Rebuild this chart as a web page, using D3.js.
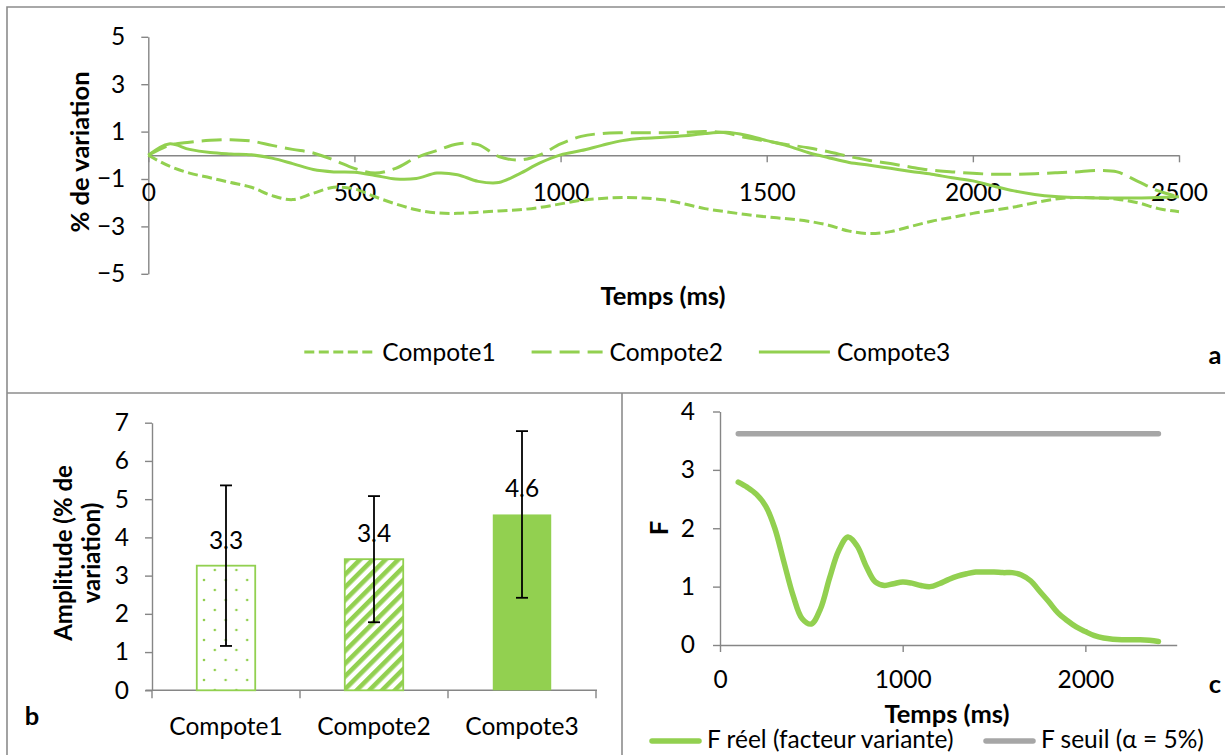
<!DOCTYPE html>
<html><head><meta charset="utf-8">
<script src="https://cdn.jsdelivr.net/npm/d3@7"></script>
<style>
body{margin:0;background:#fff}
svg{display:block}
text{font-family:Lato, "Liberation Sans", sans-serif; fill:#000}
</style>
</head><body>
<svg id="c" width="1225" height="755"></svg>
<script>
// ---------- Data: panel a ----------
const timeA = [0,50,100,150,200,250,300,350,400,450,500,550,600,650,700,750,800,850,900,950,1000,1050,1100,1150,1200,1250,1300,1350,1400,1450,1500,1550,1600,1650,1700,1750,1800,1850,1900,1950,2000,2050,2100,2150,2200,2250,2300,2350,2400,2450,2500];
const compote1 = [0,-0.45,-0.75,-0.95,-1.15,-1.35,-1.7,-1.87,-1.6,-1.35,-1.42,-1.75,-2.05,-2.3,-2.43,-2.45,-2.4,-2.35,-2.3,-2.2,-2.05,-1.9,-1.82,-1.78,-1.8,-1.88,-2.05,-2.25,-2.38,-2.5,-2.6,-2.68,-2.78,-2.95,-3.2,-3.3,-3.22,-3.0,-2.78,-2.62,-2.45,-2.32,-2.18,-2.0,-1.85,-1.78,-1.8,-1.85,-2.0,-2.25,-2.38];
const compote2 = [0,0.42,0.55,0.63,0.66,0.6,0.42,0.25,0.1,-0.2,-0.55,-0.75,-0.55,-0.1,0.2,0.48,0.45,-0.05,-0.2,0.02,0.48,0.8,0.92,0.95,0.95,0.95,0.97,1.0,0.95,0.75,0.6,0.45,0.32,0.15,-0.05,-0.22,-0.35,-0.5,-0.63,-0.7,-0.76,-0.8,-0.8,-0.78,-0.74,-0.7,-0.64,-0.7,-1.1,-1.5,-1.75];
const compote3 = [0,0.48,0.25,0.12,0.06,0.02,-0.12,-0.35,-0.6,-0.7,-0.72,-0.85,-1.0,-0.98,-0.75,-0.82,-1.1,-1.15,-0.78,-0.32,0.02,0.2,0.42,0.62,0.72,0.76,0.82,0.92,0.97,0.85,0.62,0.4,0.12,-0.1,-0.3,-0.42,-0.55,-0.68,-0.8,-0.95,-1.08,-1.3,-1.5,-1.65,-1.74,-1.78,-1.8,-1.8,-1.8,-1.78,-1.75];
const seriesNamesA = ["Compote1","Compote2","Compote3"];
const yTicksA = [-5,-3,-1,1,3,5];
const xTicksA = [0,500,1000,1500,2000,2500];

// ---------- Data: panel b ----------
const categoriesB = ["Compote1","Compote2","Compote3"];
const amplitude = [3.26,3.43,4.60];
const amplitudeErr = [2.1,1.65,2.18];
const yTicksB = [0,1,2,3,4,5,6,7];

// ---------- Data: panel c ----------
const timeC = [100,150,200,250,300,350,400,450,500,550,600,650,700,750,800,850,900,950,1000,1050,1100,1150,1200,1250,1300,1350,1400,1450,1500,1550,1600,1650,1700,1750,1800,1850,1900,1950,2000,2050,2100,2150,2200,2250,2300,2350,2400];
const fReel = [2.79,2.7,2.58,2.38,2.0,1.42,0.85,0.45,0.36,0.62,1.15,1.62,1.85,1.7,1.35,1.08,1.02,1.05,1.08,1.06,1.02,1.0,1.05,1.12,1.18,1.22,1.25,1.25,1.25,1.24,1.24,1.2,1.1,0.92,0.74,0.55,0.42,0.31,0.23,0.16,0.12,0.1,0.09,0.09,0.09,0.08,0.06];
const fSeuil = [3.62,3.62,3.62,3.62,3.62,3.62,3.62,3.62,3.62,3.62,3.62,3.62,3.62,3.62,3.62,3.62,3.62,3.62,3.62,3.62,3.62,3.62,3.62,3.62,3.62,3.62,3.62,3.62,3.62,3.62,3.62,3.62,3.62,3.62,3.62,3.62,3.62,3.62,3.62,3.62,3.62,3.62,3.62,3.62,3.62,3.62,3.62];
const seriesNamesC = ["F réel (facteur variante)","F seuil (α = 5%)"];
const yTicksC = [0,1,2,3,4];
const xTicksC = [0,1000,2000];

// ---------- Styles ----------
const GREEN = "#92D050", GREY = "#A6A6A6", AXIS = "#868686", BORDER = "#8C8C8C";
const FS = 24.5, FSB = 25.5;

const svg = d3.select("#c");

// frame lines
const frame = svg.append("g").attr("fill","none").attr("stroke",BORDER).attr("stroke-width",1.6);
frame.append("path").attr("d","M7,755V7H1225");
frame.append("path").attr("d","M7,393H1225");
frame.append("path").attr("d","M622,393V755");

function styleAxis(g){
  g.selectAll("path.domain").attr("stroke",AXIS).attr("stroke-width",1.4);
  g.selectAll(".tick line").attr("stroke",AXIS).attr("stroke-width",1.4);
  g.selectAll(".tick text").attr("font-size",FS).attr("font-family","Lato, 'Liberation Sans', sans-serif").attr("fill","#000");
}

// ================= Panel a =================
const xA = d3.scaleLinear().domain([0,2500]).range([148.3,1179]);
const yA = d3.scaleLinear().domain([-5,5]).range([273.8,36.8]);

const gAy = svg.append("g").attr("transform",`translate(${xA(0)},0)`)
  .call(d3.axisLeft(yA).tickValues(yTicksA).tickSize(7).tickSizeOuter(0).tickPadding(16).tickFormat(d3.format("d")));
styleAxis(gAy);
const gAx = svg.append("g").attr("transform",`translate(0,${yA(0)})`)
  .call(d3.axisBottom(xA).tickValues(xTicksA).tickSize(7).tickSizeOuter(0).tickPadding(21).tickFormat(d3.format("d")));
styleAxis(gAx);

const dashA = [ "10,4.5", "20,8", null ];
const valsA = [compote1, compote2, compote3];
const lineA = d3.line().x((d,i)=>xA(timeA[i])).y(d=>yA(d)).curve(d3.curveCatmullRom.alpha(0.5));
valsA.forEach((vals,k)=>{
  svg.append("path").datum(vals).attr("d",lineA)
    .attr("fill","none").attr("stroke",GREEN).attr("stroke-width",3)
    .attr("stroke-dasharray",dashA[k]);
});

svg.append("text").attr("transform",`translate(80,152) rotate(-90)`).attr("text-anchor","middle")
  .attr("dy","0.35em").attr("font-size",FSB).attr("font-weight","bold").text("% de variation");
svg.append("text").attr("x",663).attr("y",296).attr("text-anchor","middle")
  .attr("dy","0.35em").attr("font-size",FSB).attr("font-weight","bold").text("Temps (ms)");

// legend a
const legA = svg.append("g");
seriesNamesA.forEach((name,k)=>{
  const x0 = 304.3 + k*227.3;
  legA.append("line").attr("x1",x0).attr("x2",x0+71).attr("y1",352).attr("y2",352)
    .attr("stroke",GREEN).attr("stroke-width",3).attr("stroke-dasharray",dashA[k]);
  legA.append("text").attr("x",x0+78).attr("y",352).attr("dy","0.35em").attr("font-size",FS).text(name);
});
svg.append("text").attr("x",1215).attr("y",355).attr("text-anchor","middle").attr("dy","0.35em")
  .attr("font-size",FSB).attr("font-weight","bold").text("a");

// ================= Panel b =================
const defs = svg.append("defs");
const pDots = defs.append("pattern").attr("id","dots").attr("patternUnits","userSpaceOnUse")
  .attr("width",21.6).attr("height",20).attr("x",204).attr("y",560);
pDots.append("rect").attr("width",21.6).attr("height",20).attr("fill","#fff");
[[0,0],[21.6,0],[0,20],[21.6,20],[10.8,10]].forEach(p=>{
  pDots.append("circle").attr("cx",p[0]).attr("cy",p[1]).attr("r",1.3).attr("fill",GREEN);
});
const pStripe = defs.append("pattern").attr("id","stripes").attr("patternUnits","userSpaceOnUse")
  .attr("width",9).attr("height",9).attr("patternTransform","rotate(45)");
pStripe.append("rect").attr("width",9).attr("height",9).attr("fill","#fff");
pStripe.append("rect").attr("width",4.6).attr("height",9).attr("fill",GREEN);

const xB = d3.scaleBand().domain(categoriesB).range([152,596]).paddingInner(0.595).paddingOuter(0.2975);
const yB = d3.scaleLinear().domain([0,7]).range([690.3,422.7]);

const gBy = svg.append("g").attr("transform",`translate(152,0)`)
  .call(d3.axisLeft(yB).tickValues(yTicksB).tickSize(7).tickSizeOuter(0).tickPadding(16).tickFormat(d3.format("d")));
styleAxis(gBy);
const gBx = svg.append("g").attr("transform",`translate(0,${yB(0)})`)
  .call(d3.axisBottom(xB).tickSize(0).tickSizeOuter(0).tickPadding(27));
styleAxis(gBx);
gBx.select("path.domain").attr("d",`M145.5,0H597`);
d3.range(categoriesB.length+1).forEach(i=>{
  const bx = xB.range()[0] + i*xB.step();
  gBx.append("line").attr("x1",bx).attr("x2",bx).attr("y1",0).attr("y2",8).attr("stroke",AXIS).attr("stroke-width",1.4);
});

const fills = ["url(#dots)","url(#stripes)",GREEN];
categoriesB.forEach((c,i)=>{
  svg.append("rect").attr("x",xB(c)+0.75).attr("y",yB(amplitude[i]))
    .attr("width",xB.bandwidth()-1.5).attr("height",yB(0)-yB(amplitude[i]))
    .attr("fill",fills[i]).attr("stroke",GREEN).attr("stroke-width",i<2?1.8:0);
});
const fmt1 = d3.format(".1f");
categoriesB.forEach((c,i)=>{
  svg.append("text").attr("x",xB(c)+xB.bandwidth()/2).attr("y",yB(amplitude[i])-17)
    .attr("text-anchor","middle").attr("font-size",FS).text(fmt1(amplitude[i]));
});
categoriesB.forEach((c,i)=>{
  const cx = xB(c)+xB.bandwidth()/2;
  const hi = yB(amplitude[i]+amplitudeErr[i]), lo = yB(amplitude[i]-amplitudeErr[i]);
  const g = svg.append("g").attr("stroke","#000").attr("stroke-width",1.8);
  g.append("line").attr("x1",cx).attr("x2",cx).attr("y1",hi).attr("y2",lo);
  g.append("line").attr("x1",cx-6).attr("x2",cx+6).attr("y1",hi).attr("y2",hi);
  g.append("line").attr("x1",cx-6).attr("x2",cx+6).attr("y1",lo).attr("y2",lo);
});

const tB = svg.append("text").attr("transform",`translate(76,553) rotate(-90)`).attr("text-anchor","middle")
  .attr("font-size",24).attr("font-weight","bold");
tB.append("tspan").attr("x",0).attr("dy","-0.15em").text("Amplitude (% de");
tB.append("tspan").attr("x",0).attr("dy","1.15em").text("variation)");
svg.append("text").attr("x",32).attr("y",716).attr("text-anchor","middle").attr("dy","0.35em")
  .attr("font-size",FSB).attr("font-weight","bold").text("b");

// ================= Panel c =================
const xC = d3.scaleLinear().domain([0,2500]).range([720,1176.7]);
const yC = d3.scaleLinear().domain([0,4]).range([645,411.5]);
const gCy = svg.append("g").attr("transform",`translate(${xC(0)},0)`)
  .call(d3.axisLeft(yC).tickValues(yTicksC).tickSize(7).tickSizeOuter(0).tickPadding(18).tickFormat(d3.format("d")));
styleAxis(gCy);
const gCx = svg.append("g").attr("transform",`translate(0,${yC(0)})`)
  .call(d3.axisBottom(xC).tickValues(xTicksC).tickSize(7).tickSizeOuter(0).tickPadding(19).tickFormat(d3.format("d")));
styleAxis(gCx);

const lineC = d3.line().x((d,i)=>xC(timeC[i])).y(d=>yC(d)).curve(d3.curveCatmullRom.alpha(0.5));
svg.append("path").datum(fSeuil).attr("d",lineC).attr("fill","none").attr("stroke",GREY)
  .attr("stroke-width",5.5).attr("stroke-linecap","round");
svg.append("path").datum(fReel).attr("d",lineC).attr("fill","none").attr("stroke",GREEN)
  .attr("stroke-width",5.5).attr("stroke-linecap","round");

svg.append("text").attr("transform",`translate(659,528) rotate(-90)`).attr("text-anchor","middle")
  .attr("dy","0.35em").attr("font-size",FSB).attr("font-weight","bold").text("F");
svg.append("text").attr("x",947).attr("y",714).attr("text-anchor","middle")
  .attr("dy","0.35em").attr("font-size",FSB).attr("font-weight","bold").text("Temps (ms)");
svg.append("text").attr("x",1215).attr("y",684).attr("text-anchor","middle").attr("dy","0.35em")
  .attr("font-size",FSB).attr("font-weight","bold").text("c");

// legend c
const legC = svg.append("g");
const legCx = [649, 983];
const legCcol = [GREEN, GREY];
seriesNamesC.forEach((name,k)=>{
  const x0 = legCx[k];
  legC.append("line").attr("x1",x0+3).attr("x2",x0+50).attr("y1",741).attr("y2",741)
    .attr("stroke",legCcol[k]).attr("stroke-width",5.5).attr("stroke-linecap","round");
  legC.append("text").attr("x",x0+58).attr("y",739).attr("dy","0.35em").attr("font-size",FS).text(name);
});
</script>
</body></html>
